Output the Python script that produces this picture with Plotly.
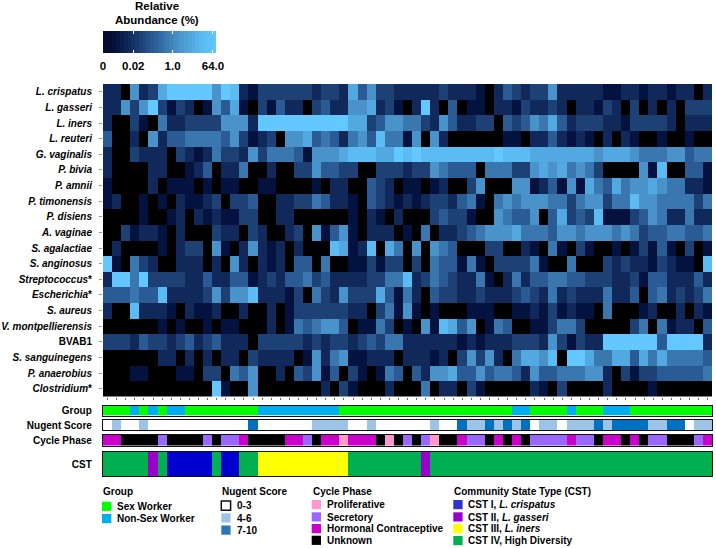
import plotly.graph_objects as go

W, H = 716, 548
FONT = "Liberation Sans, Arial, sans-serif"

taxa = ["<i>L. crispatus</i>", "<i>L. gasseri</i>", "<i>L. iners</i>", "<i>L. reuteri</i>",
        "<i>G. vaginalis</i>", "<i>P. bivia</i>", "<i>P. amnii</i>", "<i>P. timonensis</i>",
        "<i>P. disiens</i>", "<i>A. vaginae</i>", "<i>S. agalactiae</i>", "<i>S. anginosus</i>",
        "<i>Streptococcus</i>*", "<i>Escherichia</i>*", "<i>S. aureus</i>",
        "<i>V. montpellierensis</i>", "BVAB1", "<i>S. sanguinegens</i>",
        "<i>P. anaerobius</i>", "<i>Clostridium</i>*"]

# abundance on the colour-bar's position scale, 0 (black) to 9 (brightest)
l_crispatus = [2,2,0,6,2,3,7,9,9,9,9,9,6,9,8,2,1,3,3,3,3,3,3,2,3,3,2,7,
               4,6,3,3,2,2,2,2,2,3,2,2,2,1,0,2,4,3,2,3,3,6,2,2,2,2,2,1,1,2,2,1,2,2,1,2,2,0,2]
l_gasseri = [2,2,6,3,6,9,3,1,3,2,0,1,6,4,7,1,0,3,1,4,2,2,0,3,4,2,2,6,
             6,7,2,3,1,0,2,9,2,0,4,0,1,1,0,2,2,1,3,2,2,3,2,0,2,2,1,3,2,0,3,0,2,0,2,0,3,3,3]
l_iners = [2,0,0,3,1,0,5,2,2,3,3,3,3,6,6,6,2,9,9,9,9,9,9,9,9,9,9,7,
           7,3,4,6,6,5,5,3,2,6,4,2,2,3,3,0,4,3,4,6,5,7,4,2,3,3,3,2,2,1,3,3,3,3,2,0,2,2,2]
l_reuteri = [4,0,0,2,0,6,2,4,4,5,5,5,5,4,6,3,1,2,3,0,6,6,7,4,5,4,2,5,
             6,4,8,5,5,1,6,0,6,2,0,0,0,0,0,0,1,1,0,2,2,4,2,1,2,1,0,2,0,2,1,0,0,1,0,0,1,0,0]
g_vaginalis = [2,0,0,3,2,2,2,0,3,2,1,2,5,3,3,2,6,3,5,5,5,4,1,6,6,6,7,8,
               8,8,7,7,9,8,9,8,8,8,8,8,8,8,8,9,8,8,8,7,7,7,7,7,7,7,6,7,7,7,6,5,5,5,6,6,4,5,5]
p_bivia = [2,0,0,0,0,2,2,0,0,1,2,4,0,2,2,5,0,0,2,0,0,3,3,6,4,4,3,3,
           0,0,3,3,3,2,3,3,6,5,4,4,4,0,5,5,5,3,3,6,7,6,7,5,6,5,3,0,0,0,0,6,1,8,0,0,4,4,1]
p_amnii = [1,0,0,0,0,2,0,1,1,1,0,1,0,1,1,0,0,1,1,0,0,0,0,1,0,2,2,0,
           0,4,3,2,0,1,1,0,1,2,0,0,3,6,0,0,0,6,6,1,2,4,1,6,1,7,5,4,7,5,6,6,7,6,5,5,2,2,1]
p_timonensis = [1,2,0,0,1,0,1,0,2,1,1,2,3,0,3,3,4,0,0,2,2,3,3,5,4,2,2,1,
                0,4,3,2,1,2,1,2,3,3,2,4,5,1,0,5,6,5,6,6,6,5,5,3,5,6,6,3,5,5,8,6,6,5,5,5,5,3,5]
p_disiens = [0,0,0,0,1,0,0,1,2,0,2,1,2,1,1,3,3,0,0,2,2,0,0,0,0,0,0,1,
             0,2,1,0,2,0,0,0,3,4,3,3,1,0,0,6,5,4,4,6,0,4,7,3,4,3,8,1,1,1,3,4,6,5,2,2,5,2,2]
a_vaginae = [0,0,3,1,2,2,1,0,2,0,0,0,3,2,2,0,3,2,0,0,2,3,0,6,1,4,6,1,
             0,2,2,2,0,1,0,5,0,2,2,3,4,5,6,6,6,7,5,5,5,4,6,6,5,6,6,6,5,6,5,3,4,4,5,5,4,4,5]
s_agalactiae = [0,2,0,0,0,0,1,0,2,3,3,0,6,1,0,2,6,2,1,2,0,2,0,0,0,8,7,1,
                2,8,0,7,5,0,6,0,6,5,4,0,0,0,3,3,0,0,2,1,0,5,1,0,3,1,0,0,1,0,1,3,1,4,1,0,3,0,1]
s_anginosus = [9,1,0,5,3,2,0,0,2,2,2,0,2,0,6,2,0,2,1,2,0,4,4,0,5,0,0,1,
               1,3,1,3,3,0,3,0,5,4,4,1,5,1,0,3,3,3,3,5,1,0,0,5,0,0,0,3,2,3,2,2,1,3,2,1,1,0,8]
streptococcus = [2,9,9,5,9,3,3,3,3,2,2,4,2,2,4,4,1,2,3,2,4,4,5,3,4,2,2,2,
                 2,3,3,5,5,8,2,3,5,4,3,2,2,5,1,0,2,5,2,4,4,5,5,4,4,3,3,3,2,2,3,1,4,4,2,2,2,4,2]
escherichia = [4,4,4,5,4,4,8,2,2,2,2,3,6,3,6,6,8,2,2,2,1,3,0,5,3,2,6,3,
               3,3,7,4,1,5,2,0,4,3,3,2,2,3,2,2,2,3,4,3,2,5,2,3,2,2,2,5,2,2,4,0,4,5,2,3,2,3,5]
s_aureus = [2,0,0,8,2,2,2,1,0,2,1,1,2,0,0,2,0,0,2,0,1,3,3,3,3,3,3,2,
            2,0,3,5,1,6,1,0,1,0,0,0,1,1,1,0,0,1,1,2,1,3,1,2,1,1,0,5,0,0,0,1,2,0,0,2,0,2,1]
v_montpellierensis = [0,0,0,0,0,0,1,0,1,0,0,1,0,1,1,0,0,0,2,0,1,5,4,5,6,6,4,0,
                      1,1,5,3,0,1,0,6,1,8,7,4,6,0,1,5,4,0,0,1,1,3,5,5,3,0,0,0,0,0,3,5,0,5,1,2,2,0,4]
bvab1 = [3,3,3,2,4,3,3,2,3,4,2,3,4,2,2,2,0,3,3,3,3,3,2,3,2,3,3,2,
         3,4,3,5,5,2,2,2,2,2,2,1,2,1,2,2,2,3,3,3,2,6,3,1,3,2,2,9,9,9,9,9,9,4,9,9,9,9,2]
s_sanguinegens = [0,0,0,0,0,0,2,2,0,2,0,2,0,2,2,0,3,2,2,2,2,0,1,6,2,5,6,1,
                  1,2,2,2,0,2,2,2,1,2,0,3,6,3,6,2,0,5,7,7,6,8,0,9,9,7,5,5,7,7,4,7,5,7,5,5,5,5,4]
p_anaerobius = [0,0,0,1,1,0,0,0,1,1,0,3,3,0,5,4,6,0,0,2,0,4,3,6,1,4,0,3,
                1,0,1,5,4,0,4,2,6,6,7,4,4,6,4,5,5,4,2,6,4,4,5,5,5,6,6,2,0,3,1,3,3,4,4,4,4,4,5]
clostridium = [0,0,0,0,0,0,0,0,0,0,0,0,9,1,0,0,6,0,0,0,0,0,0,0,2,0,3,1,
               0,0,0,2,0,0,0,5,0,2,2,0,3,1,0,0,0,0,0,2,1,0,3,0,0,0,0,2,0,0,0,0,1,0,0,0,0,0,0]

rows = [l_crispatus, l_gasseri, l_iners, l_reuteri, g_vaginalis, p_bivia, p_amnii, p_timonensis,
        p_disiens, a_vaginae, s_agalactiae, s_anginosus, streptococcus, escherichia, s_aureus,
        v_montpellierensis, bvab1, s_sanguinegens, p_anaerobius, clostridium]
N = 67

# annotation tracks as (category, number of samples) runs
group_runs = [(0,3),(1,1),(0,1),(1,1),(0,1),(1,2),(0,8),(1,9),(0,19),(1,2),(0,4),(1,1),(0,3),(1,3),(0,9)]
nugent_runs = [(0,1),(1,1),(0,2),(1,1),(0,11),(2,1),(0,6),(1,4),(0,2),(1,1),(0,6),(1,1),(0,2),(2,1),(1,2),
               (2,1),(1,1),(2,1),(1,1),(2,1),(0,1),(1,2),(0,1),(1,3),(2,1),(1,1),(2,4),(1,2),(2,2),(0,1),(1,2)]
cycle_runs = [(2,2),(3,4),(1,1),(3,4),(1,1),(3,1),(1,2),(2,1),(3,4),(2,2),(1,1),(3,1),(2,2),(0,1),(2,3),(3,1),
              (0,1),(3,1),(1,1),(3,1),(1,1),(0,1),(3,2),(2,1),(1,2),(3,1),(2,1),(3,1),(2,1),(3,1),(1,4),(2,1),
              (1,2),(3,1),(2,2),(3,1),(2,1),(3,1),(1,2),(3,3),(1,1),(2,1)]
cst_runs = [(3,5),(1,1),(3,1),(0,5),(3,1),(0,2),(3,2),(2,10),(3,8),(1,1),(3,31)]

group_colors = ["#00FF00", "#00AEEF"]
nugent_colors = ["#FFFFFF", "#9DC3E6", "#0070C0"]
cycle_colors = ["#FF99CC", "#9966FF", "#CC00CC", "#000000"]
cst_colors = ["#0000CC", "#9900CC", "#FFFF00", "#00B050"]

scale_stops = ["#000000", "#04123f", "#10295a", "#1d4075", "#2b5b94", "#3a77af",
               "#4a92ca", "#52a8e0", "#5bbcf3", "#62c8ff"]
bar_levels = [0.0, 0.3, 0.6, 0.9, 1.2, 1.5, 1.8, 2.1, 2.4, 2.7, 3.0, 3.3, 3.6, 3.9, 4.2, 4.5, 4.8,
              5.1, 5.4, 5.7, 6.0, 6.3, 6.6, 6.9, 7.2, 7.5, 7.8, 8.1, 8.4, 8.7, 9.0]
bar_ticks = [2.41, 5.54, 8.76, 0]
bar_labels = ["0.02", "1.0", "64.0", "0"]


def px(x):
    return x / W


def py(y):
    return 1 - y / H


def expand(runs):
    out = []
    for c, n in runs:
        out += [c] * n
    return out


def discrete(colors):
    n = len(colors)
    return [[i / max(n - 1, 1), c] for i, c in enumerate(colors)]


L, R = 103.0, 712.3
scale = [[i / 9, c] for i, c in enumerate(scale_stops)]
fig = go.Figure()

fig.add_trace(go.Heatmap(z=rows, x=list(range(N)), y=taxa, zmin=0, zmax=9, colorscale=scale,
                         showscale=False, xaxis="x", yaxis="y"))

tracks = [("Group", group_runs, group_colors, 405.5, 415.5),
          ("Nugent Score", nugent_runs, nugent_colors, 420, 430.3),
          ("Cycle Phase", cycle_runs, cycle_colors, 435, 445.5),
          ("CST", cst_runs, cst_colors, 452, 476)]

fig.update_layout(
    template="none",
    width=W, height=H, margin=dict(l=0, r=0, t=0, b=0, pad=0), paper_bgcolor="white", plot_bgcolor="white",
    font=dict(family=FONT, color="#000000", size=10), showlegend=False,
    xaxis=dict(domain=[px(L), px(R)], range=[-0.5, N - 0.5], tickmode="array", tickvals=list(range(N)),
               showticklabels=False, ticks="outside", ticklen=2, tickwidth=1, tickcolor="#666666",
               showgrid=False, zeroline=False, anchor="y"),
    yaxis=dict(domain=[py(396.5), py(84)], autorange="reversed", tickmode="array",
               tickvals=taxa, ticktext=["<b>" + t + "</b>" for t in taxa], ticks="outside", ticklen=3,
               tickwidth=1, tickcolor="#999999", showgrid=False, zeroline=False,
               tickfont=dict(family=FONT, size=10, color="#000000"), anchor="x", ticklabelstandoff=5),
)

for k, (name, runs, colors, top, bot) in enumerate(tracks):
    n = k + 2
    fig.add_trace(go.Heatmap(z=[expand(runs)], x=list(range(N)), y=[name], zmin=0, zmax=len(colors) - 1,
                             colorscale=discrete(colors), showscale=False,
                             xaxis=f"x{n}", yaxis=f"y{n}"))
    fig.update_layout({
        f"xaxis{n}": dict(domain=[px(L), px(R)], range=[-0.5, N - 0.5], showticklabels=False, ticks="",
                          showgrid=False, zeroline=False, showline=True, linecolor="#111111", linewidth=1.3,
                          mirror=True, anchor=f"y{n}"),
        f"yaxis{n}": dict(domain=[py(bot), py(top)], tickmode="array", tickvals=[name],
                          ticktext=[f"<b>{name}</b>"], ticks="", showgrid=False, zeroline=False,
                          showline=True, linecolor="#111111", linewidth=1.3, mirror=True,
                          tickfont=dict(family=FONT, size=10, color="#000000"), anchor=f"x{n}",
                          ticklabelstandoff=8),
    })

# colour key as its own small axis, so that its ticks can sit inside on both edges
fig.add_trace(go.Heatmap(z=[[max(v, 0.8) for v in bar_levels]], x=bar_levels, y=[0], zmin=0, zmax=9,
                         colorscale=scale, showscale=False, xaxis="x6", yaxis="y6"))
fig.update_layout(
    xaxis6=dict(domain=[px(103), px(216)], range=[0, 9], tickmode="array", tickvals=bar_ticks,
                ticktext=[f"<b>{t}</b>" for t in bar_labels], ticks="inside", ticklen=3, tickwidth=1,
                tickcolor="#ffffff", mirror="ticks", showline=False, showgrid=False, zeroline=False,
                tickfont=dict(family=FONT, size=11.5, color="#000000"), anchor="y6", ticklabelstandoff=4),
    yaxis6=dict(domain=[py(53.3), py(31)], showticklabels=False, ticks="", showgrid=False, zeroline=False,
                anchor="x6", fixedrange=True),
)
fig.update_xaxes(automargin=False)
fig.update_yaxes(automargin=False)


def text(x, y, s, size=10, anchor="left"):
    fig.add_annotation(xref="paper", yref="paper", x=px(x), y=py(y), text=s, showarrow=False,
                       xanchor=anchor, yanchor="middle", align=anchor,
                       font=dict(family=FONT, size=size, color="#000000"), borderpad=0)


def swatch(x0, y0, x1, y1, color, line=None):
    fig.add_shape(type="rect", xref="paper", yref="paper", x0=px(x0), x1=px(x1), y0=py(y1), y1=py(y0),
                  fillcolor=color, line=dict(color=line or color, width=1.5 if line else 0))


text(157.3, 6, "<b>Relative</b>", 11.5, "center")
text(157.3, 20, "<b>Abundance (%)</b>", 11.5, "center")

legend_blocks = [
    (102, 115.7, "Group", [("Sex Worker", group_colors[0], 501.7), ("Non-Sex Worker", group_colors[1], 514)]),
    (221.3, 235.7, "Nugent Score", [("0-3", "#FFFFFF", 501), ("4-6", "#9DC3E6", 513.3), ("7-10", "#2E75B6", 525.5)]),
    (311.7, 325.7, "Cycle Phase", [("Proliferative", "#FF99CC", 500), ("Secretory", "#9966FF", 512.3),
                                   ("Hormonal Contraceptive", "#CC00CC", 524), ("Unknown", "#000000", 535.7)]),
    (453.3, 467.3, "Community State Type (CST)", [("CST I, <i>L. crispatus</i>", "#3333CC", 500),
                                                   ("CST II, <i>L. gasseri</i>", "#9900CC", 512.3),
                                                   ("CST III, <i>L. iners</i>", "#FFFF00", 524),
                                                   ("CST IV, High Diversity", "#00B050", 536)]),
]
for sx, tx, title, items in legend_blocks:
    text(sx, 491, f"<b>{title}</b>")
    for lab, col, top in items:
        swatch(sx, top, sx + 9.3, top + 9.2, col, "#111111" if col == "#FFFFFF" else None)
        text(tx, top + 4.8, f"<b>{lab}</b>")

fig.write_html("out.html", config={"displayModeBar": False}, post_script="document.body.style.margin='0';")
